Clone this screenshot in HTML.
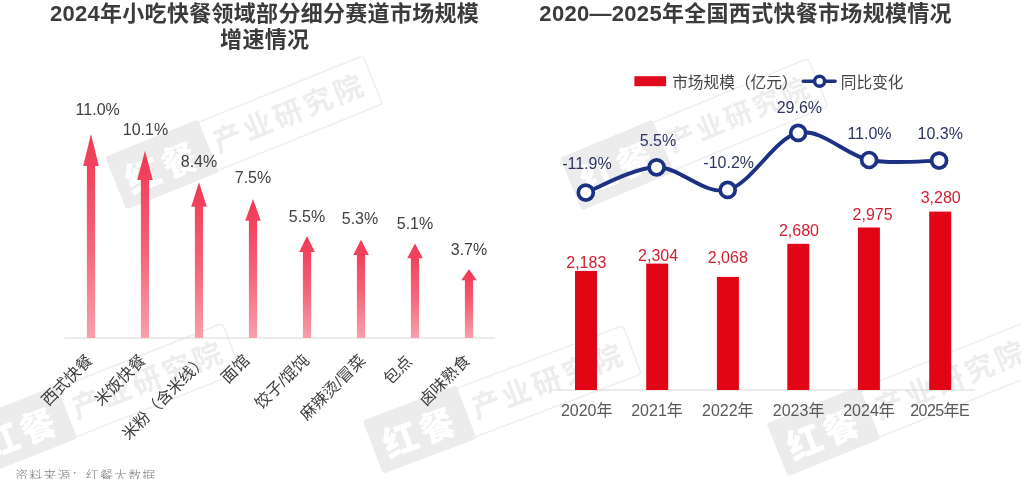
<!DOCTYPE html>
<html lang="zh-CN"><head><meta charset="utf-8"><title>西式快餐市场规模</title>
<style>
html,body{margin:0;padding:0;background:#fff;}
body{width:1021px;height:479px;overflow:hidden;}
svg{display:block;font-family:"Liberation Sans", "Noto Sans CJK SC", sans-serif;filter:blur(0.5px);}
.t{font-weight:700;font-size:22px;fill:#3b3b3b;letter-spacing:0.3px;}
.v{font-size:16px;fill:#404040;}
.ax{font-size:16px;fill:#3d3d3d;}
.yr{font-size:16px;fill:#5a5a5a;}
.bl{font-size:16px;fill:#cf2130;}
.pc{font-size:16px;fill:#2d3663;}
.lg{font-size:15.7px;fill:#454545;}
.src{font-size:13px;fill:#808080;font-weight:300;letter-spacing:1.15px;}
</style></head><body>
<svg width="1021" height="479" viewBox="0 0 1021 479">
<defs>
<linearGradient id="ag" x1="0" y1="0" x2="0" y2="1">
<stop offset="0" stop-color="#ef3a56"/><stop offset="0.16" stop-color="#f2435e"/><stop offset="0.55" stop-color="#f4657b"/><stop offset="1" stop-color="#f8a0ab"/>
</linearGradient>
</defs>
<rect width="1021" height="479" fill="#ffffff"/>
<g transform="translate(105,156.8) rotate(-22)">
<rect x="2" y="3" width="275.0" height="52" rx="4" fill="none" stroke="#eeeeee" stroke-width="1.5"/>
<rect x="0" y="0" width="100" height="57" rx="3" fill="#ececec"/>
<text x="11" y="44.5" font-size="35" font-weight="900" fill="#ffffff" style="letter-spacing:4px">红餐</text>
<text x="106.5" y="38.9" font-size="29.0" font-weight="700" fill="#ededed" style="letter-spacing:3.40px">产业研究院</text>
</g>
<g transform="translate(560.0,157.8) rotate(-22.5)">
<rect x="2" y="3" width="265.3" height="52" rx="4" fill="none" stroke="#eeeeee" stroke-width="1.5"/>
<rect x="0" y="0" width="100" height="57" rx="3" fill="#ececec"/>
<text x="11" y="44.5" font-size="35" font-weight="900" fill="#ffffff" style="letter-spacing:4px">红餐</text>
<text x="106.1" y="38.4" font-size="27.4" font-weight="700" fill="#ededed" style="letter-spacing:3.21px">产业研究院</text>
</g>
<g transform="translate(-36.5,422) rotate(-21.5)">
<rect x="2" y="3" width="275.0" height="52" rx="4" fill="none" stroke="#eeeeee" stroke-width="1.5"/>
<rect x="0" y="0" width="100" height="57" rx="3" fill="#ececec"/>
<text x="11" y="44.5" font-size="35" font-weight="900" fill="#ffffff" style="letter-spacing:4px">红餐</text>
<text x="106.5" y="38.9" font-size="29.0" font-weight="700" fill="#ededed" style="letter-spacing:3.40px">产业研究院</text>
</g>
<g transform="translate(362.8,420.6) rotate(-20.7)">
<rect x="2" y="3" width="275.0" height="52" rx="4" fill="none" stroke="#eeeeee" stroke-width="1.5"/>
<rect x="0" y="0" width="100" height="57" rx="3" fill="#ececec"/>
<text x="11" y="44.5" font-size="35" font-weight="900" fill="#ffffff" style="letter-spacing:4px">红餐</text>
<text x="106.5" y="38.9" font-size="29.0" font-weight="700" fill="#ededed" style="letter-spacing:3.40px">产业研究院</text>
</g>
<g transform="translate(766.5,423.5) rotate(-22)">
<rect x="2" y="3" width="275.0" height="52" rx="4" fill="none" stroke="#eeeeee" stroke-width="1.5"/>
<rect x="0" y="0" width="100" height="57" rx="3" fill="#ececec"/>
<text x="11" y="44.5" font-size="35" font-weight="900" fill="#ffffff" style="letter-spacing:4px">红餐</text>
<text x="106.5" y="38.9" font-size="29.0" font-weight="700" fill="#ededed" style="letter-spacing:3.40px">产业研究院</text>
</g>
<text class="t" x="264.5" y="20.8" text-anchor="middle">2024年小吃快餐领域部分细分赛道市场规模</text>
<text class="t" x="264.7" y="47.1" text-anchor="middle">增速情况</text>
<text class="t" x="745.6" y="20.8" text-anchor="middle">2020—2025年全国西式快餐市场规模情况</text>
<line x1="64.5" y1="338.0" x2="495" y2="338.0" stroke="#d9d9d9" stroke-width="1"/>
<polygon fill="url(#ag)" points="91.00,133.95 98.80,165.99 95.10,165.99 95.10,338.00 86.90,338.00 86.90,165.99 83.20,165.99"/>
<text class="v" x="97.7" y="114.6" text-anchor="middle">11.0%</text>
<polygon fill="url(#ag)" points="145.00,150.65 152.80,180.06 149.10,180.06 149.10,338.00 140.90,338.00 140.90,180.06 137.20,180.06"/>
<text class="v" x="145.5" y="134.8" text-anchor="middle">10.1%</text>
<polygon fill="url(#ag)" points="199.00,182.18 206.80,206.64 203.10,206.64 203.10,338.00 194.90,338.00 194.90,206.64 191.20,206.64"/>
<text class="v" x="199.0" y="167.2" text-anchor="middle">8.4%</text>
<polygon fill="url(#ag)" points="253.00,198.88 260.80,220.72 257.10,220.72 257.10,338.00 248.90,338.00 248.90,220.72 245.20,220.72"/>
<text class="v" x="253.0" y="182.9" text-anchor="middle">7.5%</text>
<polygon fill="url(#ag)" points="307.00,235.97 314.80,251.99 311.10,251.99 311.10,338.00 302.90,338.00 302.90,251.99 299.20,251.99"/>
<text class="v" x="307.0" y="221.5" text-anchor="middle">5.5%</text>
<polygon fill="url(#ag)" points="361.00,239.69 368.80,255.12 365.10,255.12 365.10,338.00 356.90,338.00 356.90,255.12 353.20,255.12"/>
<text class="v" x="360.0" y="224.1" text-anchor="middle">5.3%</text>
<polygon fill="url(#ag)" points="415.00,243.39 422.80,258.25 419.10,258.25 419.10,338.00 410.90,338.00 410.90,258.25 407.20,258.25"/>
<text class="v" x="415.0" y="228.9" text-anchor="middle">5.1%</text>
<polygon fill="url(#ag)" points="469.00,269.37 476.80,280.14 473.10,280.14 473.10,338.00 464.90,338.00 464.90,280.14 461.20,280.14"/>
<text class="v" x="469.0" y="254.9" text-anchor="middle">3.7%</text>
<text class="ax" text-anchor="end" transform="translate(93.5,361.5) rotate(-45)">西式快餐</text>
<text class="ax" text-anchor="end" transform="translate(146.5,361.5) rotate(-45)">米饭快餐</text>
<text class="ax" text-anchor="end" transform="translate(208,361.5) rotate(-45)">米粉（含米线）</text>
<text class="ax" text-anchor="end" transform="translate(250.5,361.5) rotate(-45)">面馆</text>
<text class="ax" text-anchor="end" transform="translate(310,361.5) rotate(-45)">饺子/馄饨</text>
<text class="ax" text-anchor="end" transform="translate(366.5,361.5) rotate(-45)">麻辣烫/冒菜</text>
<text class="ax" text-anchor="end" transform="translate(413,362.5) rotate(-45)">包点</text>
<text class="ax" text-anchor="end" transform="translate(471,361.5) rotate(-45)">卤味熟食</text>
<text class="src" x="15" y="480.3">资料来源：红餐大数据</text>
<rect x="634.4" y="76.2" width="31.7" height="10" fill="#e20a1c"/>
<text class="lg" x="672.2" y="87.5">市场规模（亿元）</text>
<line x1="803.4" y1="81.2" x2="835" y2="81.2" stroke="#1c3183" stroke-width="3.6" stroke-linecap="round"/>
<circle cx="819.6" cy="81.2" r="5.0" fill="#fff" stroke="#1c3183" stroke-width="3.5"/>
<text class="lg" x="840.8" y="87.5">同比变化</text>
<line x1="550" y1="390.0" x2="975" y2="390.0" stroke="#d9d9d9" stroke-width="1"/>
<rect x="575.00" y="270.9" width="22.0" height="119.10" fill="#e20515"/>
<rect x="646.20" y="263.6" width="22.0" height="126.40" fill="#e20515"/>
<rect x="716.90" y="276.9" width="22.0" height="113.10" fill="#e20515"/>
<rect x="787.30" y="243.8" width="22.0" height="146.20" fill="#e20515"/>
<rect x="857.90" y="227.5" width="22.0" height="162.50" fill="#e20515"/>
<rect x="929.20" y="211.6" width="22.0" height="178.40" fill="#e20515"/>
<text class="bl" x="586.3" y="268.0" text-anchor="middle">2,183</text>
<text class="yr" x="586.7" y="416" text-anchor="middle">2020年</text>
<text class="bl" x="658.1" y="260.8" text-anchor="middle">2,304</text>
<text class="yr" x="657.0" y="416" text-anchor="middle">2021年</text>
<text class="bl" x="727.8" y="262.6" text-anchor="middle">2,068</text>
<text class="yr" x="727.8" y="416" text-anchor="middle">2022年</text>
<text class="bl" x="799.0" y="235.6" text-anchor="middle">2,680</text>
<text class="yr" x="798.6" y="416" text-anchor="middle">2023年</text>
<text class="bl" x="872.6" y="219.5" text-anchor="middle">2,975</text>
<text class="yr" x="869.0" y="416" text-anchor="middle">2024年</text>
<text class="bl" x="940.7" y="203.3" text-anchor="middle">3,280</text>
<text class="yr" x="910.2" y="416" style="letter-spacing:-0.55px">2025年E</text>
<path d="M585.80,192.60 C597.60,188.38 632.95,167.75 656.60,167.30 C680.25,166.85 704.10,195.63 727.70,189.90 C751.30,184.17 774.63,137.88 798.20,132.90 C821.77,127.92 845.62,155.38 869.10,160.00 C892.58,164.62 927.43,160.50 939.10,160.60" fill="none" stroke="#1c3183" stroke-width="3.9" stroke-linecap="round" stroke-linejoin="round"/>
<circle cx="585.8" cy="192.6" r="7.5" fill="#ffffff" stroke="#1c3183" stroke-width="3.7"/>
<circle cx="656.6" cy="167.3" r="7.5" fill="#ffffff" stroke="#1c3183" stroke-width="3.7"/>
<circle cx="727.7" cy="189.9" r="7.5" fill="#ffffff" stroke="#1c3183" stroke-width="3.7"/>
<circle cx="798.2" cy="132.9" r="7.5" fill="#ffffff" stroke="#1c3183" stroke-width="3.7"/>
<circle cx="869.1" cy="160.0" r="7.5" fill="#ffffff" stroke="#1c3183" stroke-width="3.7"/>
<circle cx="939.1" cy="160.6" r="7.5" fill="#ffffff" stroke="#1c3183" stroke-width="3.7"/>
<text class="pc" x="586.9" y="169.2" text-anchor="middle">-11.9%</text>
<text class="pc" x="658.0" y="146.4" text-anchor="middle">5.5%</text>
<text class="pc" x="728.7" y="167.7" text-anchor="middle">-10.2%</text>
<text class="pc" x="799.4" y="112.5" text-anchor="middle">29.6%</text>
<text class="pc" x="869.5" y="138.5" text-anchor="middle">11.0%</text>
<text class="pc" x="940.2" y="138.5" text-anchor="middle">10.3%</text>
</svg>
</body></html>
